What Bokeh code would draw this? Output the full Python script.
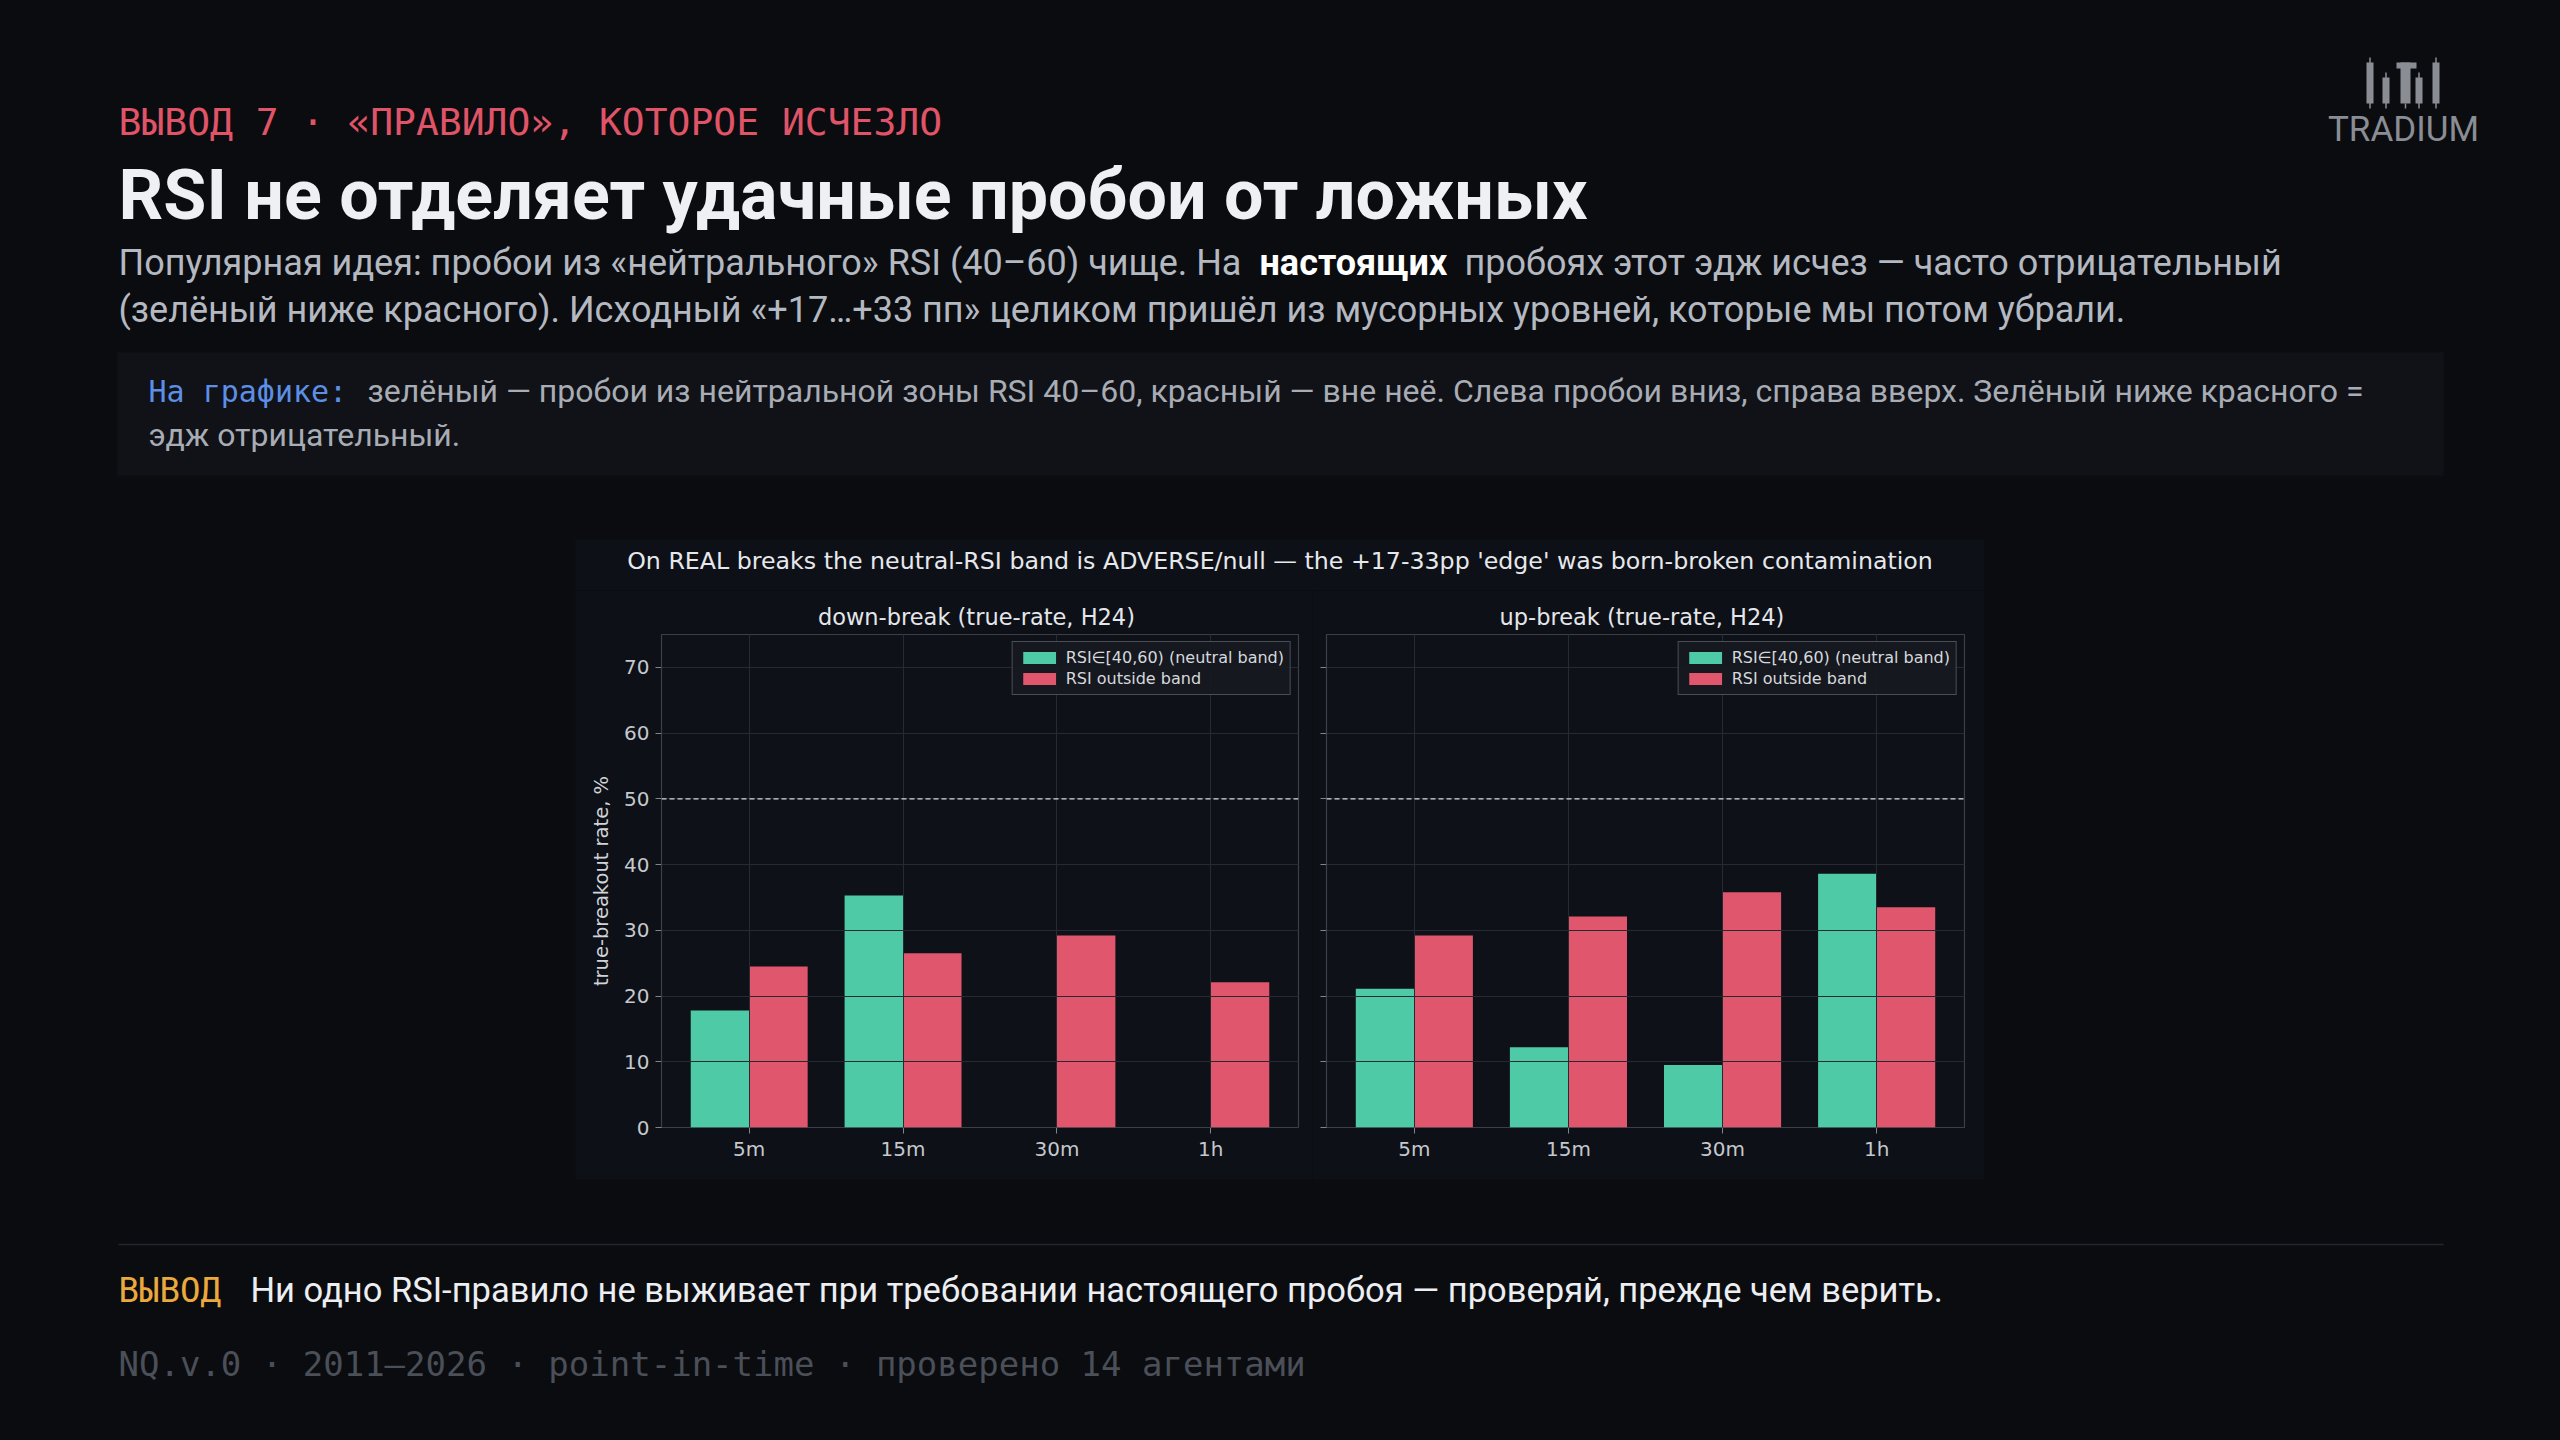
import math
from bokeh.plotting import figure
from bokeh.models import Range1d, FixedTicker, Span, Legend, LegendItem, ColumnDataSource
from bokeh.layouts import column, row
from bokeh.transform import dodge
from bokeh.core.properties import value
from bokeh.embed import file_html
from bokeh.resources import INLINE

# ---------------- data ----------------
timeframes = ["5m", "15m", "30m", "1h"]
down_neutral = [17.8, 35.3, float("nan"), float("nan")]
down_outside = [24.5, 26.5, 29.2, 22.1]
up_neutral = [21.1, 12.2, 9.5, 38.6]
up_outside = [29.2, 32.1, 35.8, 33.5]
y_ticks = [0, 10, 20, 30, 40, 50, 60, 70]
baseline_rate = 50

series_labels = ["RSI∈[40,60) (neutral band)", "RSI outside band"]
panel_titles = ["down-break  (true-rate, H24)", "up-break  (true-rate, H24)"]
suptitle = "On REAL breaks the neutral-RSI band is ADVERSE/null — the +17-33pp 'edge' was born-broken contamination"
y_label = "true-breakout rate, %"

kicker = "ВЫВОД 7 · «ПРАВИЛО», КОТОРОЕ ИСЧЕЗЛО"
headline = "RSI не отделяет удачные пробои от ложных"
sub1a = "Популярная идея: пробои из «нейтрального» RSI (40–60) чище. На"
sub1b = "настоящих"
sub1c = "пробоях этот эдж исчез — часто отрицательный"
sub2 = "(зелёный ниже красного). Исходный «+17…+33 пп» целиком пришёл из мусорных уровней, которые мы потом убрали."
note_key = "На графике:"
note1 = "зелёный — пробои из нейтральной зоны RSI 40–60, красный — вне неё. Слева пробои вниз, справа вверх. Зелёный ниже красного ="
note2 = "эдж отрицательный."
concl_key = "ВЫВОД"
concl = "Ни одно RSI-правило не выживает при требовании настоящего пробоя — проверяй, прежде чем верить."
footer_txt = "NQ.v.0 · 2011–2026 · point-in-time · проверено 14 агентами"
logo_txt = "TRADIUM"

# ---------------- style ----------------
PAGE = "#0a0c10"
CHART_BG = "#0d1016"
AX_BG = "#0e1118"
GREEN = "#4ecba6"
RED = "#e0566c"
SANS = "Roboto"
MONO = "DejaVu Sans Mono"
MPL = "DejaVu Sans"


def canvas(w, h, x0, y0, bg):
    p = figure(width=w, height=h, x_range=Range1d(x0, x0 + w), y_range=Range1d(y0 + h, y0),
               output_backend="svg", toolbar_location=None, min_border=0,
               x_axis_location=None, y_axis_location=None)
    p.grid.visible = False
    p.outline_line_color = None
    p.background_fill_color = bg
    p.border_fill_color = bg
    return p


def txt(p, x, y, s, font, size, color, bold=False, align="left"):
    # y is the intended baseline in page pixels; small empirical correction
    p.text(x=[x], y=[y - 0.4 * size], text=[s], text_font=value(font), text_font_size=f"{size}px",
           text_color=color, text_baseline="alphabetic", text_align=align,
           text_font_style="bold" if bold else "normal")


# ---------------- header ----------------
head = canvas(2544, 531, 8, 8, PAGE)
txt(head, 118, 137, kicker, MONO, 38, "#e05468")
txt(head, 118, 222, headline, SANS, 70, "#eef0f3", bold=True)
txt(head, 118, 277, sub1a, SANS, 36, "#b4b8c0")
txt(head, 1259, 277, sub1b, SANS, 36, "#ffffff", bold=True)
txt(head, 1464, 277, sub1c, SANS, 36, "#b4b8c0")
txt(head, 118, 324, sub2, SANS, 36, "#b4b8c0")
head.quad(left=[117], right=[2443], top=[352], bottom=[475], fill_color="#101217", line_color=None)
txt(head, 148, 403, note_key, MONO, 30, "#5d8fe6")
txt(head, 367, 403, note1, SANS, 32, "#a8acb4")
txt(head, 148, 447, note2, SANS, 32, "#a8acb4")
# logo
LOGO = "#8a8d93"
head.quad(left=[2366, 2382, 2415, 2432], right=[2373, 2389, 2422, 2439],
          top=[62, 77, 77, 62], bottom=[103, 103, 103, 103], fill_color=LOGO, line_color=None)
head.quad(left=[2396, 2400], right=[2416, 2410], top=[62, 62], bottom=[68, 103], fill_color=LOGO, line_color=None)
head.segment(x0=[2369.5, 2385.5, 2418.5, 2435.5, 2405], y0=[57, 72, 72, 57, 103],
             x1=[2369.5, 2385.5, 2418.5, 2435.5, 2405], y1=[108, 108, 108, 108, 108],
             line_color=LOGO, line_width=1.5)
txt(head, 2403, 143, logo_txt, SANS, 35, LOGO, align="center")

# ---------------- chart block ----------------
sup = canvas(1409, 51, 575, 539, CHART_BG)
txt(sup, 1279.5, 570, suptitle, MPL, 23.7, "#e6e8ec", align="center")


def panel(title, neutral, outside, width, ml, mr, labels):
    src = ColumnDataSource(dict(x=list(range(len(timeframes))), neutral=neutral, outside=outside))
    p = figure(width=width, height=589, x_range=Range1d(-0.57, 3.57), y_range=Range1d(0, 75),
               output_backend="svg", toolbar_location=None, title=title,
               min_border_left=ml, min_border_right=mr, min_border_top=44, min_border_bottom=52)
    p.background_fill_color = AX_BG
    p.border_fill_color = CHART_BG
    p.outline_line_color = "#3b3f48"
    p.outline_line_width = 1.2
    r1 = p.vbar(x=dodge("x", -0.19), top="neutral", bottom=0, width=0.38, source=src,
                fill_color=GREEN, line_color=None)
    r2 = p.vbar(x=dodge("x", 0.19), top="outside", bottom=0, width=0.38, source=src,
                fill_color=RED, line_color=None)
    p.xaxis.ticker = FixedTicker(ticks=list(range(len(timeframes))))
    p.xaxis.major_label_overrides = {i: t for i, t in enumerate(timeframes)}
    p.yaxis.ticker = FixedTicker(ticks=y_ticks)
    p.grid.grid_line_color = "#262a33"
    p.grid.grid_line_width = 1
    p.grid.level = "guide"
    p.axis.axis_line_color = None
    p.axis.major_tick_line_color = "#80848c"
    p.axis.major_tick_out = 6
    p.axis.major_tick_in = 0
    p.axis.minor_tick_line_color = None
    p.axis.major_label_text_font = MPL
    p.axis.major_label_text_font_size = "20px"
    p.axis.major_label_text_color = "#c5c8ce"
    p.axis.major_label_standoff = 6
    p.xaxis.major_label_standoff = 3
    if labels:
        p.yaxis.axis_label = y_label
        p.yaxis.axis_label_text_font = MPL
        p.yaxis.axis_label_text_font_size = "19.5px"
        p.yaxis.axis_label_text_font_style = "normal"
        p.yaxis.axis_label_text_color = "#d0d3d8"
        p.yaxis.axis_label_standoff = 8
    else:
        p.yaxis.major_label_overrides = {t: "" for t in y_ticks}
    p.title.text_font = MPL
    p.title.text_font_size = "22.5px"
    p.title.text_font_style = "normal"
    p.title.text_color = "#e4e6ea"
    p.title.align = "center"
    p.add_layout(Span(location=baseline_rate, dimension="width", line_color="#d8dade",
                      line_dash="5 3", line_width=1.3))
    leg = Legend(items=[LegendItem(label=series_labels[0], renderers=[r1]),
                        LegendItem(label=series_labels[1], renderers=[r2])],
                 location="top_right")
    leg.margin = 7
    leg.padding = 6
    leg.spacing = 2
    leg.glyph_width = 41
    leg.glyph_height = 15
    leg.label_height = 19
    leg.label_standoff = 6
    leg.label_text_font = MPL
    leg.label_text_font_size = "16px"
    leg.label_text_color = "#d6d8dc"
    leg.background_fill_color = "#161920"
    leg.background_fill_alpha = 0.95
    leg.border_line_color = "#80848c"
    leg.border_line_width = 1.2
    p.add_layout(leg)
    return p


p1 = panel(panel_titles[0], down_neutral, down_outside, 737, 86, 14, True)
p2 = panel(panel_titles[1], up_neutral, up_outside, 672, 14, 20, False)
block = column(sup, row(p1, p2))
left_fill = canvas(567, 640, 8, 539, PAGE)
right_fill = canvas(568, 640, 1984, 539, PAGE)

# ---------------- footer ----------------
foot = canvas(2544, 253, 8, 1179, PAGE)
foot.segment(x0=[118], y0=[1244], x1=[2443], y1=[1244], line_color="#23262d", line_width=1.5)
txt(foot, 118, 1303, concl_key, MONO, 34, "#eaa93d")
txt(foot, 250, 1303, concl, SANS, 34.5, "#eceef2")
txt(foot, 118, 1377, footer_txt, MONO, 34, "#4b4f58")

page = column(head, row(left_fill, block, right_fill), foot)

html = file_html(page, INLINE)
html = html.replace("<body>", '<body style="margin:8px;background-color:#0a0c10;">')
open("out.html", "w").write(html)
